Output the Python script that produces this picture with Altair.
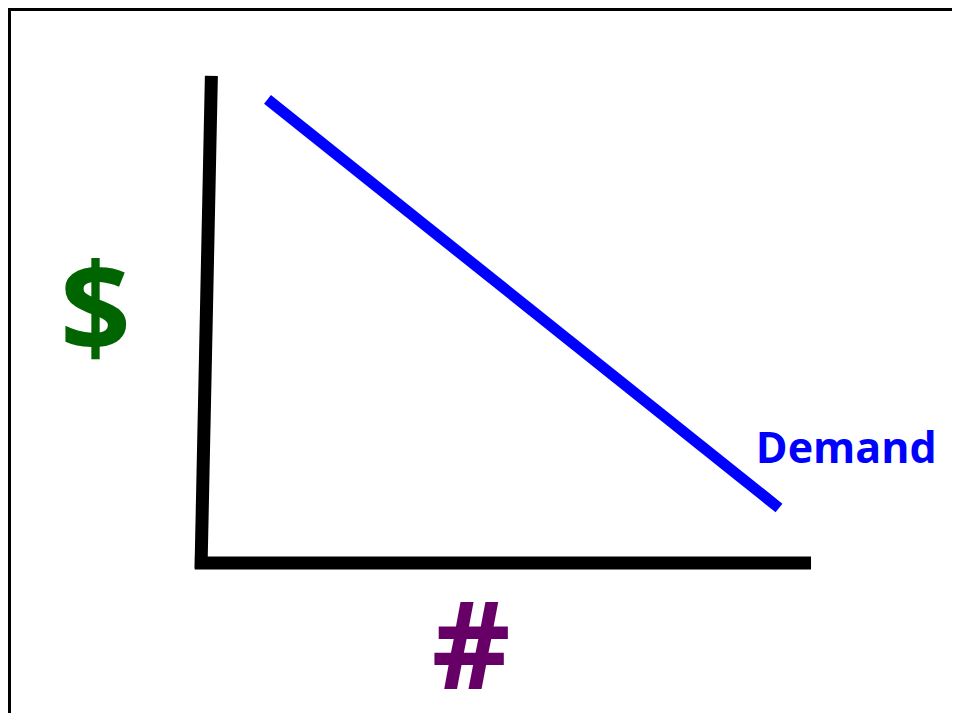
import altair as alt
import pandas as pd

# Hand-drawn demand diagram, in diagram units (quantity 0-100, price 0-100)
quantity_axis_x = [-1.0, 100.0]
quantity_axis_y = [0.0, 0.0]
price_axis_x = [1.7, 0.0]
price_axis_y = [100.0, -1.2]
demand_x = [10.9, 94.75]
demand_y = [95.2, 11.3]
label_texts = ["Demand", "$", "#"]
label_x = [90.95, -17.3, 44.3]
label_y = [20.5, 43.3, -25.9]

W, H = 944, 705
xs = alt.Scale(domain=[-31.64, 123.11], nice=False, zero=False)
ys = alt.Scale(domain=[-30.80, 113.96], nice=False, zero=False)


def seg(xv, yv):
    return pd.DataFrame({"q": xv, "p": yv, "i": list(range(len(xv)))})


def line_layer(df, color, width):
    return alt.Chart(df).mark_line(color=color, strokeWidth=width, strokeCap="butt").encode(
        x=alt.X("q:Q", scale=xs, axis=None),
        y=alt.Y("p:Q", scale=ys, axis=None),
        order="i:Q",
    )


labels = pd.DataFrame({"t": label_texts, "q": label_x, "p": label_y})


def text_layer(name, color, size, align, font):
    return alt.Chart(labels).transform_filter(alt.datum.t == name).mark_text(
        color=color, fontSize=size, fontWeight="bold", font=font,
        align=align, baseline="alphabetic",
    ).encode(
        x=alt.X("q:Q", scale=xs, axis=None),
        y=alt.Y("p:Q", scale=ys, axis=None),
        text="t:N",
    )


frame_df = pd.DataFrame({"a": [0]})
left_border = alt.Chart(frame_df).mark_rule(color="black", strokeWidth=3).encode(
    x=alt.value(1.5), y=alt.value(0), y2=alt.value(H)
)
top_border = alt.Chart(frame_df).mark_rule(color="black", strokeWidth=3).encode(
    y=alt.value(1.5), x=alt.value(0), x2=alt.value(W)
)

chart = alt.layer(
    left_border,
    top_border,
    line_layer(seg(quantity_axis_x, quantity_axis_y), "black", 13),
    line_layer(seg(price_axis_x, price_axis_y), "black", 13),
    line_layer(seg(demand_x, demand_y), "#0000ff", 11),
    text_layer("Demand", "#0000ff", 43, "left", "Open Sans"),
    text_layer("$", "#006400", 124, "center", "Open Sans"),
    text_layer("#", "#660066", 122, "center", "Open Sans"),
).properties(
    width=W, height=H, padding=0, autosize=alt.AutoSizeParams(type="none"),
    background="white",
).configure_view(stroke=None)

chart.save("out.html", embed_options={"renderer": "svg", "actions": False})
